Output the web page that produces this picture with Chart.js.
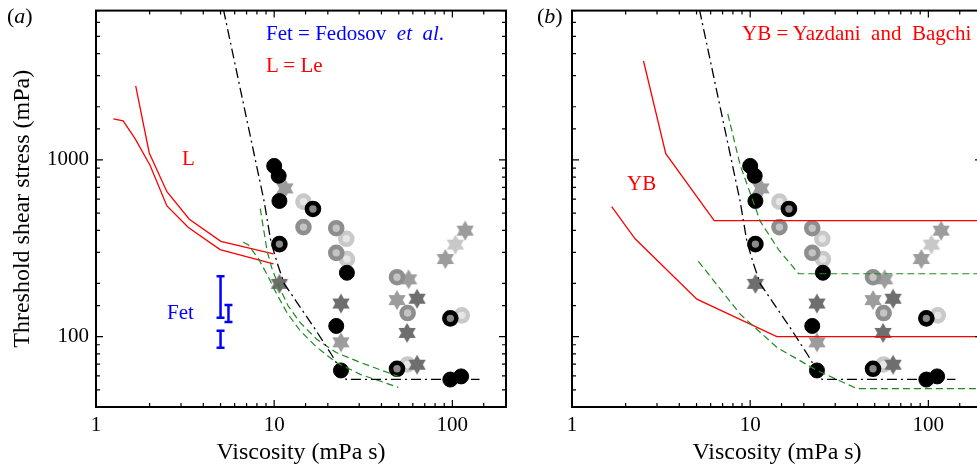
<!DOCTYPE html>
<html>
<head>
<meta charset="utf-8">
<script src="https://cdn.jsdelivr.net/npm/chart.js@4.4.0/dist/chart.umd.min.js"></script>
<style>
html, body { margin: 0; padding: 0; background: #fff; overflow: hidden; width: 977px; height: 468px; position: relative; }
canvas { position: absolute; top: 0; }
#chartA { left: 0; }
#chartB { left: 476px; }
.note { position: absolute; font-family: "Liberation Serif", "Times New Roman", serif; font-size: 21px; line-height: 1; white-space: pre; }
.blue { color: #0000ff; }
.red { color: #ff0000; }
.panel { font-size: 22px; color: #000; }
</style>
</head>
<body>
<canvas id="chartA" width="520" height="468"></canvas>
<canvas id="chartB" width="520" height="468"></canvas>

<div class="note panel" style="left:7px;top:5px">(<i>a</i>)</div>
<div class="note panel" style="left:537px;top:5px">(<i>b</i>)</div>
<div class="note blue" style="left:266px;top:23px">Fet = Fedosov  <i>et</i>  <i>al</i>.</div>
<div class="note red" style="left:266px;top:55px">L = Le</div>
<div class="note red" style="left:182px;top:148px">L</div>
<div class="note blue" style="left:167px;top:302px">Fet</div>
<div class="note red" style="left:742px;top:23px">YB = Yazdani  and  Bagchi</div>
<div class="note red" style="left:627px;top:173px">YB</div>

<script>
// 축 눈금
const xTickLabels = [1, 10, 100];
const yTickLabels = [100, 1000];

// 시뮬레이션 마커 (두 패널 공통)
const blackX = [10, 10.6, 10.7, 25.6, 22.3, 23.7, 97.4, 112];
const blackY = [925, 813, 586, 230, 115, 64.4, 57.2, 59.6];
const blackRingX = [16.5, 10.7, 48.9, 97.4];
const blackRingY = [528, 334, 65.8, 127];
const grayRingX = [14.6, 22.3, 22.3, 48.9, 56.1];
const grayRingY = [417, 411, 298, 217, 136];
const lightRingX = [14.6, 25.4, 25.6, 113, 56.1];
const lightRingY = [581, 358, 275, 132, 69.6];
const darkStarX = [10.7, 23.7, 63.4, 55.7, 63.4];
const darkStarY = [199, 154, 164, 105, 69.4];
const midStarX = [11.5, 23.7, 48.9, 56.8, 91.3, 118];
const midStarY = [690, 92.9, 161, 211, 275, 398];
const lightStarX = [104];
const lightStarY = [332];

// 이론 곡선 (일점쇄선)
const fitX = [4.92, 8.79, 9.58, 10.4, 11.4, 13.5, 16.8, 20.8, 23.7, 25.3, 142];
const fitY = [9160, 581, 346, 261, 199, 155, 112, 80.3, 64.4, 57.3, 57.3];

// (a) Le
const leAX = [1.67, 1.99, 2.5, 3.34, 5.02, 9.91];
const leAY = [2628, 1095, 661, 462, 346, 294];
const leBX = [1.25, 1.42, 1.66, 2.01, 2.5, 3.3, 4.97, 9.91];
const leBY = [1706, 1663, 1317, 934, 549, 415, 311, 258];

// (a) 녹색 점선
const greenA1X = [6.7, 7.14, 8.13, 9.1, 10.26, 11.83, 14.0, 17.2, 22.3, 30.4, 49.7];
const greenA1Y = [342, 331, 278, 226, 177, 136, 108, 87.8, 71.5, 61.2, 51.7];
const greenA2X = [8.35, 8.73, 9.13, 9.74, 10.67, 11.99, 14.0, 17.2, 22.3, 30.4, 49.7];
const greenA2Y = [531, 404, 304, 241, 191, 149, 120, 97.4, 81.3, 71.5, 59.6];

// (a) Fedosov et al. 오차 막대
const fetBars = [
    { x: 5.0, lo: 128, hi: 220 },
    { x: 5.54, lo: 121, hi: 151 },
    { x: 5.0, lo: 86.7, hi: 108 }
];

// (b) Yazdani and Bagchi
const ybUpX = [2.52, 3.36, 6.28, 200];
const ybUpY = [3631, 1085, 454, 454];
const ybLoX = [1.67, 2.26, 5.02, 14.1, 200];
const ybLoY = [545, 358, 163, 100, 100];

// (b) 녹색 점선
const greenB1X = [7.49, 8.79, 11.4, 14.4, 18.7, 200];
const greenB1Y = [1820, 934, 449, 312, 227, 227];
const greenB2X = [5.12, 8.79, 14.1, 23.7, 39.8, 200];
const greenB2Y = [267, 134, 87.1, 64.4, 50.8, 50.8];

const FONT = '"Liberation Serif", "Times New Roman", serif';
Chart.defaults.font.family = FONT;
Chart.defaults.color = '#000';

const pts = (xs, ys) => xs.map((v, i) => ({ x: v, y: ys[i] }));
const isLabel = (list, v) => list.some(l => Math.abs(l - v) / l < 1e-6);

// 육각별 마커
function starImg(color, r) {
    const c = document.createElement('canvas');
    c.width = c.height = Math.ceil(r * 2 + 2);
    const g = c.getContext('2d');
    const m = c.width / 2;
    g.fillStyle = color;
    g.beginPath();
    for (let k = 0; k < 12; k++) {
        const ang = -Math.PI / 2 + k * Math.PI / 6;
        const rr = k % 2 === 0 ? r : r * 0.577;
        g.lineTo(m + rr * Math.cos(ang), m + rr * Math.sin(ang));
    }
    g.closePath();
    g.fill();
    return c;
}

function lineSet(xs, ys, color, dash, width, order) {
    return {
        data: pts(xs, ys), showLine: true, borderColor: color, borderWidth: width,
        borderDash: dash, pointRadius: 0, fill: false, tension: 0, order: order
    };
}

function ringSet(xs, ys, outer, inner, order) {
    return {
        data: pts(xs, ys), pointStyle: 'circle', pointRadius: 6, pointBorderWidth: 4.6,
        pointBackgroundColor: inner, pointBorderColor: outer, order: order
    };
}

function starSet(xs, ys, color, order) {
    return { data: pts(xs, ys), pointStyle: starImg(color, 10), pointRadius: 9, order: order };
}

function markerSets() {
    return [
        { data: pts(blackX, blackY), pointStyle: 'circle', pointRadius: 7.5, pointBorderWidth: 1,
          pointBackgroundColor: '#000', pointBorderColor: '#000', order: 1 },
        ringSet(blackRingX, blackRingY, '#000', '#8a8a8a', 2),
        starSet(darkStarX, darkStarY, '#6e6e6e', 3),
        ringSet(grayRingX, grayRingY, '#8e8e8e', '#c4c4c4', 4),
        starSet(midStarX, midStarY, '#9c9c9c', 5),
        starSet(lightStarX, lightStarY, '#c8c8c8', 6),
        ringSet(lightRingX, lightRingY, '#c9c9c9', '#e6e6e6', 7)
    ];
}

// 안쪽 눈금과 테두리
const frameTicks = {
    id: 'frameTicks',
    afterDatasetsDraw(chart) {
        const { ctx, chartArea: a, scales: { x, y } } = chart;
        ctx.save();
        ctx.strokeStyle = '#000';
        ctx.lineWidth = 1.2;
        ctx.beginPath();
        x.ticks.forEach(t => {
            const p = x.getPixelForValue(t.value);
            const len = isLabel(xTickLabels, t.value) ? 7 : 4;
            ctx.moveTo(p, a.bottom); ctx.lineTo(p, a.bottom - len);
            ctx.moveTo(p, a.top); ctx.lineTo(p, a.top + len);
        });
        y.ticks.forEach(t => {
            const p = y.getPixelForValue(t.value);
            const len = isLabel(yTickLabels, t.value) ? 7 : 4;
            ctx.moveTo(a.left, p); ctx.lineTo(a.left + len, p);
            ctx.moveTo(a.right, p); ctx.lineTo(a.right - len, p);
        });
        ctx.stroke();
        ctx.lineWidth = 2;
        ctx.strokeRect(a.left, a.top, a.right - a.left, a.bottom - a.top);
        ctx.restore();
    }
};

function makeChart(id, datasets, showY) {
    return new Chart(document.getElementById(id), {
        type: 'scatter',
        data: { datasets: datasets },
        plugins: [frameTicks],
        options: {
            responsive: false,
            animation: false,
            layout: { padding: { top: 7, right: 14, left: 0, bottom: 0 } },
            plugins: { legend: { display: false }, tooltip: { enabled: false } },
            scales: {
                x: {
                    type: 'logarithmic', min: 1, max: 200,
                    grid: { display: false, drawTicks: false },
                    border: { display: false },
                    ticks: {
                        autoSkip: false, maxRotation: 0, padding: 6,
                        font: { size: 21 },
                        callback: v => isLabel(xTickLabels, v) ? String(v) : ''
                    },
                    title: { display: true, text: 'Viscosity (mPa s)', font: { size: 24 }, padding: { top: 0, bottom: 1 } },
                    afterFit: s => { s.height = 61; s.paddingLeft = 0; s.paddingRight = 0; }
                },
                y: {
                    type: 'logarithmic', min: 40, max: 7000,
                    grid: { display: false, drawTicks: false },
                    border: { display: false },
                    ticks: {
                        autoSkip: false, padding: 7,
                        font: { size: 21 },
                        callback: v => showY && isLabel(yTickLabels, v) ? String(v) : ''
                    },
                    title: { display: showY, text: 'Threshold shear stress (mPa)', font: { size: 24 }, padding: { top: 8, bottom: 0 } },
                    afterFit: s => { s.width = 96; s.paddingTop = 0; s.paddingBottom = 0; }
                }
            }
        }
    });
}

const fitDash = [10, 4, 2, 4];
const greenDash = [7, 4];

// 패널 (a)
const setsA = [
    lineSet(fitX, fitY, '#000', fitDash, 1.3, 0),
    lineSet(greenA1X, greenA1Y, '#1f8a1f', greenDash, 1.2, 0),
    lineSet(greenA2X, greenA2Y, '#1f8a1f', greenDash, 1.2, 0),
    lineSet(leAX, leAY, '#ff0000', [], 1.3, 0),
    lineSet(leBX, leBY, '#ff0000', [], 1.3, 0)
];
fetBars.forEach(b => setsA.push({
    data: [{ x: b.x, y: b.lo }, { x: b.x, y: b.hi }], showLine: true,
    borderColor: '#0000ff', borderWidth: 2.5, pointStyle: 'line', pointRadius: 4,
    pointBorderWidth: 2.5, pointBorderColor: '#0000ff', order: 0
}));
makeChart('chartA', setsA.concat(markerSets()), true);

// 패널 (b)
const setsB = [
    lineSet(fitX, fitY, '#000', fitDash, 1.3, 0),
    lineSet(greenB1X, greenB1Y, '#1f8a1f', greenDash, 1.2, 0),
    lineSet(greenB2X, greenB2Y, '#1f8a1f', greenDash, 1.2, 0),
    lineSet(ybUpX, ybUpY, '#ff0000', [], 1.3, 0),
    lineSet(ybLoX, ybLoY, '#ff0000', [], 1.3, 0)
];
makeChart('chartB', setsB.concat(markerSets()), false);
</script>
</body>
</html>
